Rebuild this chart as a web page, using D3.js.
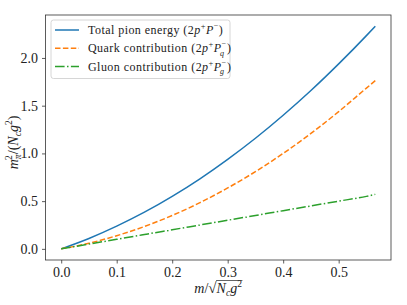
<!DOCTYPE html>
<html>
<head>
<meta charset="utf-8">
<script src="https://cdn.jsdelivr.net/npm/d3@7"></script>
<style>
  body { margin: 0; background: #fff; }
  svg { display: block; }
  text { font-family: "Liberation Serif", "DejaVu Serif", serif; fill: #222; }
</style>
</head>
<body>
<svg id="chart" width="407" height="305"></svg>
<script>
// values
var massValues = [0, 0.05, 0.10, 0.15, 0.20, 0.25, 0.30, 0.35, 0.40, 0.45, 0.50, 0.55, 0.566];
var totalEnergy = [0, 0.109, 0.238, 0.384, 0.55, 0.734, 0.938, 1.159, 1.40, 1.659, 1.938, 2.234, 2.333];
var quarkPart = [0, 0.059, 0.138, 0.234, 0.35, 0.484, 0.638, 0.809, 1.00, 1.209, 1.438, 1.684, 1.762];
var gluonPart = [0, 0.05, 0.10, 0.15, 0.20, 0.25, 0.30, 0.35, 0.40, 0.45, 0.50, 0.55, 0.571];
var xTicks = [0, 0.1, 0.2, 0.3, 0.4, 0.5];
var yTicks = [0, 0.5, 1.0, 1.5, 2.0];

var FONT = '"Liberation Serif", "DejaVu Serif", serif';
var svg = d3.select("#chart");
var margin = {left: 45.5, top: 15, right: 16, bottom: 45};
var width = +svg.attr("width") - margin.left - margin.right;
var height = +svg.attr("height") - margin.top - margin.bottom;

var x = d3.scaleLinear().domain([-0.0283, 0.5943]).range([0, width]);
var y = d3.scaleLinear().domain([-0.1167, 2.45]).range([height, 0]);

var g = svg.append("g").attr("transform", "translate(" + margin.left + "," + margin.top + ")");

var xAxis = g.append("g")
    .attr("transform", "translate(0," + height + ")")
    .call(d3.axisBottom(x).tickValues(xTicks).tickFormat(d3.format(".1f")).tickSize(3.5).tickPadding(4));
var yAxis = g.append("g")
    .call(d3.axisLeft(y).tickValues(yTicks).tickFormat(d3.format(".1f")).tickSize(3.5).tickPadding(4));

[xAxis, yAxis].forEach(function (a) {
    a.attr("font-family", FONT).attr("font-size", 14);
    a.select(".domain").remove();
    a.selectAll("line").attr("stroke", "#333").attr("stroke-width", 0.8);
    a.selectAll("text").attr("fill", "#222");
});

var series = [
    {name: "total", values: totalEnergy, color: "#1f77b4", dash: null},
    {name: "quark", values: quarkPart, color: "#ff7f0e", dash: "5.5,2.4"},
    {name: "gluon", values: gluonPart, color: "#2ca02c", dash: "9.6,2.4,1.5,2.4"}
];

var line = d3.line()
    .x(function (d) { return x(d[0]); })
    .y(function (d) { return y(d[1]); })
    .curve(d3.curveMonotoneX);

g.selectAll("path.series")
    .data(series)
    .enter().append("path")
    .attr("class", "series")
    .attr("fill", "none")
    .attr("stroke", function (d) { return d.color; })
    .attr("stroke-width", 1.5)
    .attr("stroke-dasharray", function (d) { return d.dash; })
    .attr("d", function (d) {
        return line(massValues.map(function (m, i) { return [m, d.values[i]]; }));
    });

// frame
g.append("rect")
    .attr("width", width).attr("height", height)
    .attr("fill", "none").attr("stroke", "#333").attr("stroke-width", 0.8);

// legend
var legend = g.append("g").attr("transform", "translate(5.5,5)");
legend.append("rect")
    .attr("width", 179).attr("height", 58.5).attr("rx", 2.5)
    .attr("fill", "#fff").attr("fill-opacity", 0.8)
    .attr("stroke", "#ccc").attr("stroke-width", 0.8);

var rows = [
    {sub: null, label: "Total pion energy "},
    {sub: "q", label: "Quark contribution "},
    {sub: "g", label: "Gluon contribution "}
];
rows.forEach(function (r, i) {
    var yy = 10 + i * 18.3;
    legend.append("line")
        .attr("x1", 4).attr("x2", 28).attr("y1", yy).attr("y2", yy)
        .attr("stroke", series[i].color).attr("stroke-width", 1.5)
        .attr("stroke-dasharray", series[i].dash);
    var t = legend.append("text").attr("x", 37).attr("y", yy + 4)
        .attr("font-size", 12).attr("letter-spacing", 0.45);
    t.append("tspan").text(r.label + "(2");
    t.append("tspan").attr("font-style", "italic").text("p");
    t.append("tspan").attr("font-size", 8.5).attr("dy", -5).text("+");
    t.append("tspan").attr("font-style", "italic").attr("dy", 5).text("P");
    t.append("tspan").attr("font-size", 8).attr("dy", -6).text("\u2212");
    if (r.sub) {
        t.append("tspan").attr("font-size", 8).attr("font-style", "italic")
            .attr("dx", -6.5).attr("dy", 9.5).text(r.sub);
        t.append("tspan").attr("dx", 2.5).attr("dy", -3.5).text(")");
    } else {
        t.append("tspan").attr("dy", 6).text(")");
    }
});

// y label
var yl = svg.append("text")
    .attr("transform", "translate(18," + (margin.top + height / 2 + 5) + ") rotate(-90)")
    .attr("text-anchor", "middle").attr("font-size", 14);
yl.append("tspan").attr("font-style", "italic").text("m");
yl.append("tspan").attr("font-size", 9.5).attr("font-style", "italic").attr("dy", 3).text("\u03c0");
yl.append("tspan").attr("font-size", 9.5).attr("dx", -5.5).attr("dy", -9).text("2");
yl.append("tspan").attr("dx", 1).attr("dy", 6).text("/(");
yl.append("tspan").attr("font-style", "italic").text("N");
yl.append("tspan").attr("font-size", 9.5).attr("font-style", "italic").attr("dy", 3).text("c");
yl.append("tspan").attr("font-style", "italic").attr("dy", -3).text("g");
yl.append("tspan").attr("font-size", 9.5).attr("dy", -6).text("2");
yl.append("tspan").attr("dy", 6).text(")");

// x label: m / sqrt(N_c g^2)
var xlG = svg.append("g");
var xl = xlG.append("text").attr("y", 293).attr("font-size", 14);
xl.append("tspan").attr("font-style", "italic").text("m");
xl.append("tspan").text("/");
xl.append("tspan").attr("font-size", 15).text("\u221a");
xl.append("tspan").attr("font-style", "italic").text("N");
xl.append("tspan").attr("font-size", 9.5).attr("font-style", "italic").attr("dy", 3).text("c");
xl.append("tspan").attr("font-style", "italic").attr("dy", -3).text("g");
xl.append("tspan").attr("font-size", 9.5).attr("dy", -6).text("2");
var box = xl.node().getBBox();
xl.attr("x", margin.left + width / 2 - box.width / 2);
var node = xl.node();
var startX = node.getStartPositionOfChar(3).x;
var endX = node.getEndPositionOfChar(node.getNumberOfChars() - 1).x;
xlG.append("line")
    .attr("x1", startX - 0.5).attr("x2", endX + 0.5)
    .attr("y1", 280.5).attr("y2", 280.5)
    .attr("stroke", "#222").attr("stroke-width", 0.7);
</script>
</body>
</html>
